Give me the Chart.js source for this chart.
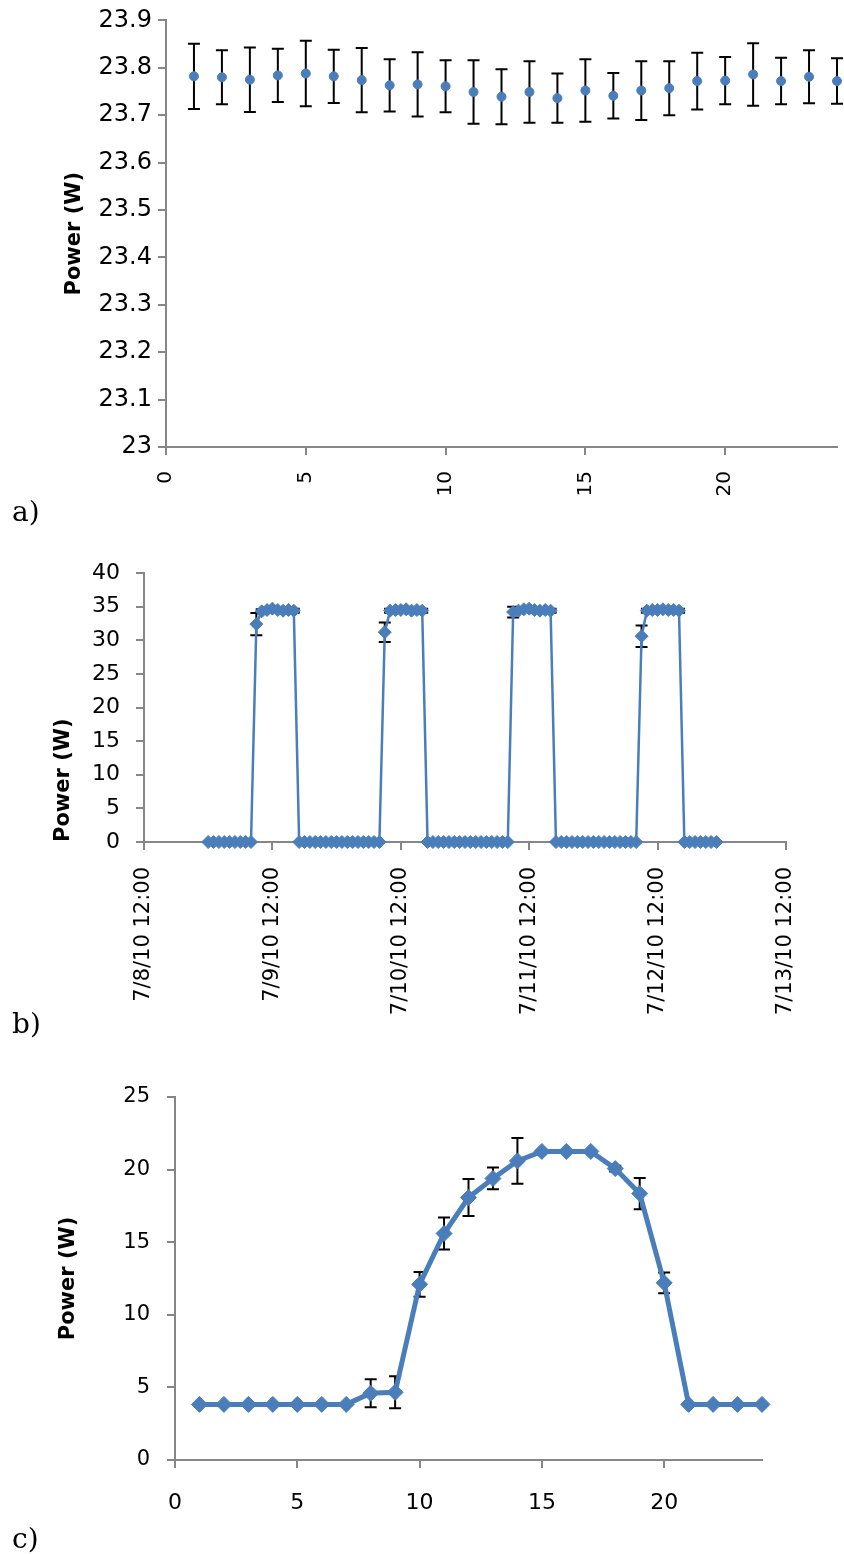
<!DOCTYPE html>
<html>
<head>
<meta charset="utf-8">
<script src="https://cdn.jsdelivr.net/npm/chart.js@4.4.0/dist/chart.umd.min.js"></script>
<style>
  body { margin: 0; background: #fff; }
  .panel { position: absolute; left: 0; width: 844px; }
  .tag { position: absolute; left: 12px; font: 28px 'DejaVu Serif', serif; line-height: 28px; color: #000; }
</style>
</head>
<body>
<div class="panel" style="top:0;height:520px"><canvas id="chartA"></canvas></div>
<div class="tag" style="top:498px">a)</div>
<div class="panel" style="top:540px;height:490px"><canvas id="chartB"></canvas></div>
<div class="tag" style="top:1010px">b)</div>
<div class="panel" style="top:1060px;height:494px"><canvas id="chartC"></canvas></div>
<div class="tag" style="top:1525px">c)</div>
<script>
const BLUE = '#4a7ebb';
const AXIS = '#868686';
const FONT = "'DejaVu Sans', sans-serif";

// hour of day, shared by a) and c)
const hours = [1, 2, 3, 4, 5, 6, 7, 8, 9, 10, 11, 12, 13, 14, 15, 16, 17, 18, 19, 20, 21, 22, 23, 24];

// a) hourly mean power with error bars
const aPower = [23.782, 23.780, 23.775, 23.784, 23.788, 23.782, 23.774, 23.763, 23.765, 23.761, 23.749, 23.739,
                23.749, 23.736, 23.752, 23.741, 23.752, 23.757, 23.772, 23.773, 23.786, 23.772, 23.781, 23.772];
const aError = [0.069, 0.057, 0.068, 0.056, 0.069, 0.056, 0.068, 0.055, 0.068, 0.055, 0.067, 0.058,
                0.065, 0.052, 0.066, 0.048, 0.062, 0.057, 0.060, 0.050, 0.066, 0.049, 0.056, 0.048];
const aYTicks = [23, 23.1, 23.2, 23.3, 23.4, 23.5, 23.6, 23.7, 23.8, 23.9];
const aXTicks = [0, 5, 10, 15, 20];

// b) hours counted from 7/8/10 12:00, one reading per hour
const bHours = [
  12, 13, 14, 15, 16, 17, 18, 19, 20, 21, 22, 23, 24, 25, 26, 27, 28, 29, 30, 31, 32, 33, 34, 35,
  36, 37, 38, 39, 40, 41, 42, 43, 44, 45, 46, 47, 48, 49, 50, 51, 52, 53, 54, 55, 56, 57, 58, 59,
  60, 61, 62, 63, 64, 65, 66, 67, 68, 69, 70, 71, 72, 73, 74, 75, 76, 77, 78, 79, 80, 81, 82, 83,
  84, 85, 86, 87, 88, 89, 90, 91, 92, 93, 94, 95, 96, 97, 98, 99, 100, 101, 102, 103, 104, 105, 106, 107
];
const bPower = [
  0, 0, 0, 0, 0, 0, 0, 0, 0, 32.4, 34.3, 34.5, 34.7, 34.5, 34.4, 34.5, 34.4, 0, 0, 0, 0, 0, 0, 0,
  0, 0, 0, 0, 0, 0, 0, 0, 0, 31.2, 34.4, 34.5, 34.5, 34.6, 34.4, 34.5, 34.4, 0, 0, 0, 0, 0, 0, 0,
  0, 0, 0, 0, 0, 0, 0, 0, 0, 34.2, 34.4, 34.6, 34.7, 34.5, 34.4, 34.5, 34.4, 0, 0, 0, 0, 0, 0, 0,
  0, 0, 0, 0, 0, 0, 0, 0, 0, 30.6, 34.4, 34.5, 34.5, 34.6, 34.5, 34.5, 34.4, 0, 0, 0, 0, 0, 0, 0
];
const bError = [
  0, 0, 0, 0, 0, 0, 0, 0, 0, 1.65, 0.3, 0.3, 0.3, 0.3, 0.3, 0.3, 0.3, 0, 0, 0, 0, 0, 0, 0,
  0, 0, 0, 0, 0, 0, 0, 0, 0, 1.45, 0.3, 0.3, 0.3, 0.3, 0.3, 0.3, 0.3, 0, 0, 0, 0, 0, 0, 0,
  0, 0, 0, 0, 0, 0, 0, 0, 0, 0.8, 0.3, 0.3, 0.3, 0.3, 0.3, 0.3, 0.3, 0, 0, 0, 0, 0, 0, 0,
  0, 0, 0, 0, 0, 0, 0, 0, 0, 1.6, 0.3, 0.3, 0.3, 0.3, 0.3, 0.3, 0.3, 0, 0, 0, 0, 0, 0, 0
];
const bYTicks = [0, 5, 10, 15, 20, 25, 30, 35, 40];
const bXTicks = [0, 24, 48, 72, 96, 120];
const bXLabels = ['7/8/10 12:00', '7/9/10 12:00', '7/10/10 12:00', '7/11/10 12:00', '7/12/10 12:00', '7/13/10 12:00'];

// c) hourly mean power with error bars
const cPower = [3.83, 3.83, 3.83, 3.83, 3.83, 3.83, 3.83, 4.6, 4.66, 12.1, 15.6, 18.08,
                19.39, 20.6, 21.25, 21.25, 21.25, 20.07, 18.35, 12.2, 3.83, 3.83, 3.83, 3.83];
const cError = [0, 0, 0, 0, 0, 0, 0, 0.96, 1.1, 0.85, 1.1, 1.27,
                0.75, 1.58, 0.1, 0.1, 0.1, 0.2, 1.08, 0.71, 0, 0, 0, 0];
const cYTicks = [0, 5, 10, 15, 20, 25];
const cXTicks = [0, 5, 10, 15, 20];

// black error bars with caps, drawn under the markers
const errorBars = {
  id: 'errorBars',
  beforeDatasetsDraw(chart) {
    const { ctx, scales: { x, y } } = chart;
    ctx.save();
    ctx.strokeStyle = '#000';
    ctx.lineWidth = 2;
    chart.data.datasets.forEach((ds) => {
      if (!ds.errors) return;
      ds.data.forEach((pt, i) => {
        const e = ds.errors[i];
        if (!e) return;
        const px = x.getPixelForValue(pt.x);
        const top = y.getPixelForValue(pt.y + e);
        const bot = y.getPixelForValue(pt.y - e);
        ctx.beginPath();
        ctx.moveTo(px, top); ctx.lineTo(px, bot);
        ctx.moveTo(px - 6, top); ctx.lineTo(px + 6, top);
        ctx.moveTo(px - 6, bot); ctx.lineTo(px + 6, bot);
        ctx.stroke();
      });
    });
    ctx.restore();
  }
};

function pts(xs, ys) {
  return xs.map((v, i) => ({ x: v, y: ys[i] }));
}

function axisLines() {
  return {
    grid: { drawOnChartArea: false, drawTicks: true, tickLength: 8, color: AXIS, lineWidth: 2 },
    border: { display: true, color: AXIS, width: 2 }
  };
}

function yAxis(min, max, tickVals, size, pad, width, titlePad, titleAlign) {
  return Object.assign(axisLines(), {
    type: 'linear', min, max,
    afterBuildTicks: (s) => { s.ticks = tickVals.map((v) => ({ value: v })); },
    afterFit: (s) => { s.width = width; },
    ticks: { color: '#000', padding: pad, autoSkip: false, font: { family: FONT, size }, callback: (v) => String(v) },
    title: {
      display: true, text: 'Power (W)', color: '#000', align: titleAlign,
      padding: { top: titlePad, bottom: 0 },
      font: { family: FONT, size: 21, weight: 'bold' }
    }
  });
}

function xAxis(min, max, tickVals, labelFor, size, pad, height, rotation) {
  return Object.assign(axisLines(), {
    type: 'linear', min, max,
    afterBuildTicks: (s) => { s.ticks = tickVals.map((v) => ({ value: v })); },
    afterFit: (s) => { s.height = height; },
    ticks: {
      color: '#000', padding: pad, autoSkip: false, minRotation: rotation, maxRotation: rotation,
      font: { family: FONT, size }, callback: labelFor
    }
  });
}

const common = {
  responsive: true,
  maintainAspectRatio: false,
  animation: false,
  events: [],
  plugins: { legend: { display: false }, tooltip: { enabled: false } }
};

new Chart(document.getElementById('chartA'), {
  type: 'scatter',
  data: {
    datasets: [{
      data: pts(hours, aPower),
      errors: aError,
      showLine: false,
      clip: false,
      pointRadius: 4.5,
      pointBorderWidth: 1,
      pointBackgroundColor: BLUE,
      pointBorderColor: BLUE
    }]
  },
  options: Object.assign({}, common, {
    layout: { padding: { left: 0, top: 20, right: 7, bottom: 0 } },
    scales: {
      x: xAxis(0, 24, aXTicks, (v) => String(v), 20, 16, 73, 90),
      y: yAxis(23, 23.9, aYTicks, 24, 6, 166, 62, 'center')
    }
  }),
  plugins: [errorBars]
});

new Chart(document.getElementById('chartB'), {
  type: 'line',
  data: {
    datasets: [{
      data: pts(bHours, bPower),
      errors: bError,
      clip: false,
      borderColor: BLUE,
      borderWidth: 2.5,
      tension: 0,
      pointStyle: 'rectRot',
      pointRadius: 6.5,
      pointBorderWidth: 1,
      pointBackgroundColor: BLUE,
      pointBorderColor: BLUE
    }]
  },
  options: Object.assign({}, common, {
    layout: { padding: { left: 0, top: 33, right: 58, bottom: 0 } },
    scales: {
      x: xAxis(0, 120, bXTicks, (v) => bXLabels[bXTicks.indexOf(v)], 21, 17, 188, 90),
      y: yAxis(0, 40, bYTicks, 22, 16, 144, 51, 'start')
    }
  }),
  plugins: [errorBars]
});

new Chart(document.getElementById('chartC'), {
  type: 'line',
  data: {
    datasets: [{
      data: pts(hours, cPower),
      errors: cError,
      clip: false,
      borderColor: BLUE,
      borderWidth: 5,
      tension: 0,
      pointStyle: 'rectRot',
      pointRadius: 8,
      pointBorderWidth: 1,
      pointBackgroundColor: BLUE,
      pointBorderColor: BLUE
    }]
  },
  options: Object.assign({}, common, {
    layout: { padding: { left: 0, top: 37, right: 82, bottom: 0 } },
    scales: {
      x: xAxis(0, 24, cXTicks, (v) => String(v), 22, 22, 94, 0),
      y: yAxis(0, 25, cYTicks, 21, 17, 175, 56, 'center')
    }
  }),
  plugins: [errorBars]
});
</script>
</body>
</html>
